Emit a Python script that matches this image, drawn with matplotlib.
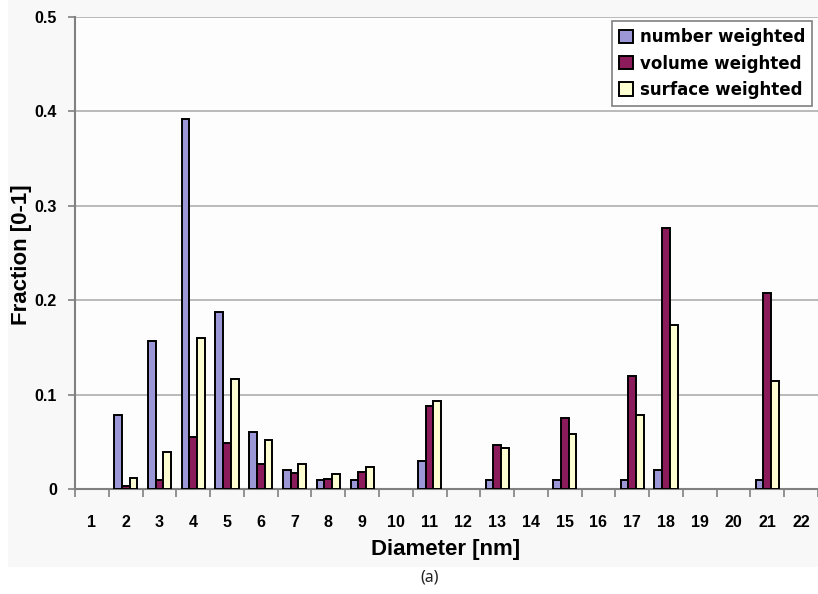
import numpy as np
import matplotlib
matplotlib.use("Agg")
import matplotlib.pyplot as plt
from matplotlib.patches import Rectangle, Patch

# Particle size distribution, diameters 1..22 nm
diameters = list(range(1, 23))
number_weighted = [0, 0.078, 0.157, 0.392, 0.187, 0.060, 0.020, 0.010, 0.010, 0,
                   0.030, 0, 0.010, 0, 0.010, 0, 0.010, 0.020, 0, 0, 0.010, 0]
volume_weighted = [0, 0.003, 0.010, 0.055, 0.049, 0.026, 0.017, 0.011, 0.018, 0,
                   0.088, 0, 0.047, 0, 0.075, 0, 0.120, 0.276, 0, 0, 0.208, 0]
surface_weighted = [0, 0.012, 0.039, 0.160, 0.117, 0.052, 0.026, 0.016, 0.023, 0,
                    0.093, 0, 0.043, 0, 0.058, 0, 0.078, 0.174, 0, 0, 0.114, 0]
series_labels = ["number weighted", "volume weighted", "surface weighted"]
series_colors = ["#9c98d8", "#8c1b5b", "#fdfdd2"]
y_ticks = [0, 0.1, 0.2, 0.3, 0.4, 0.5]

fig = plt.figure(figsize=(8.18, 5.94), dpi=100)
fig.patch.set_facecolor("white")
# light grey panel behind the chart
fig.patches.append(Rectangle((8 / 818, 1 - 567 / 594), 1, 567 / 594, transform=fig.transFigure,
                             facecolor="#f8f8f8", edgecolor="none", zorder=-10))

ax = fig.add_axes([75 / 818, 1 - 489 / 594, 743 / 818, 472 / 594])
ax.set_facecolor("#fdfdfd")

x = np.arange(len(diameters)) + 1
w = 0.228
handles = []
for k, (vals, lab, col) in enumerate(zip([number_weighted, volume_weighted, surface_weighted],
                                         series_labels, series_colors)):
    lw = [1.4 if v > 0 else 0 for v in vals]
    ax.bar(x + (k - 1) * w, vals, width=w, color=col, edgecolor="black",
           linewidth=lw, zorder=3)
    handles.append(Patch(facecolor=col, edgecolor="black", linewidth=1.4, label=lab))

ax.set_xlim(0.5, len(diameters) + 0.5)
ax.set_ylim(0, 0.5)

# horizontal grid
ax.set_yticks(y_ticks)
ax.set_yticklabels(["0", "0.1", "0.2", "0.3", "0.4", "0.5"])
ax.yaxis.grid(True, color="#a8a8a8", linewidth=1.1, zorder=0)
ax.set_axisbelow(True)

# category labels at centres, tick marks at boundaries
ax.set_xticks(x)
ax.set_xticklabels([str(d) for d in diameters])
ax.set_xticks(np.arange(len(diameters) + 1) + 0.5, minor=True)
ax.tick_params(axis="x", which="major", length=0, pad=18.5)
ax.tick_params(axis="x", which="minor", length=6, width=1.2, color="#808080", direction="out")
ax.tick_params(axis="y", length=5, width=1.2, color="#808080", pad=8)

for lbl in ax.get_xticklabels() + ax.get_yticklabels():
    lbl.set_fontfamily("Liberation Sans")
    lbl.set_fontweight("bold")
    lbl.set_fontsize(11.5)

for side in ["top", "right"]:
    ax.spines[side].set_visible(False)
for side in ["left", "bottom"]:
    ax.spines[side].set_color("#808080")
    ax.spines[side].set_linewidth(1.5)

fig.text(446 / 818, 1 - 550 / 594, "Diameter [nm]", ha="center", va="center",
         fontfamily="Liberation Sans", fontweight="bold", fontsize=16)
fig.text(22 / 818, 1 - 255 / 594, "Fraction [0-1]", ha="center", va="center", rotation=90,
         fontfamily="Liberation Sans", fontweight="bold", fontsize=16)

leg = ax.legend(handles=handles, loc="upper right", bbox_to_anchor=(0.992, 0.991),
                prop={"family": "DejaVu Sans", "weight": "bold", "size": 12},
                frameon=True, fancybox=False, handlelength=0.85, handleheight=0.85,
                handletextpad=0.4, borderpad=0.42, labelspacing=0.5, borderaxespad=0)
leg.get_frame().set_edgecolor("#808080")
leg.get_frame().set_linewidth(1.2)
leg.get_frame().set_facecolor("white")
leg.get_frame().set_alpha(1)
leg.set_zorder(5)

fig.text(430 / 818, 1 - 578 / 594, "(a)", ha="center", va="center",
         fontfamily="Noto Sans", fontsize=11.5, color="#222222")

fig.savefig("out.png", dpi=100)
